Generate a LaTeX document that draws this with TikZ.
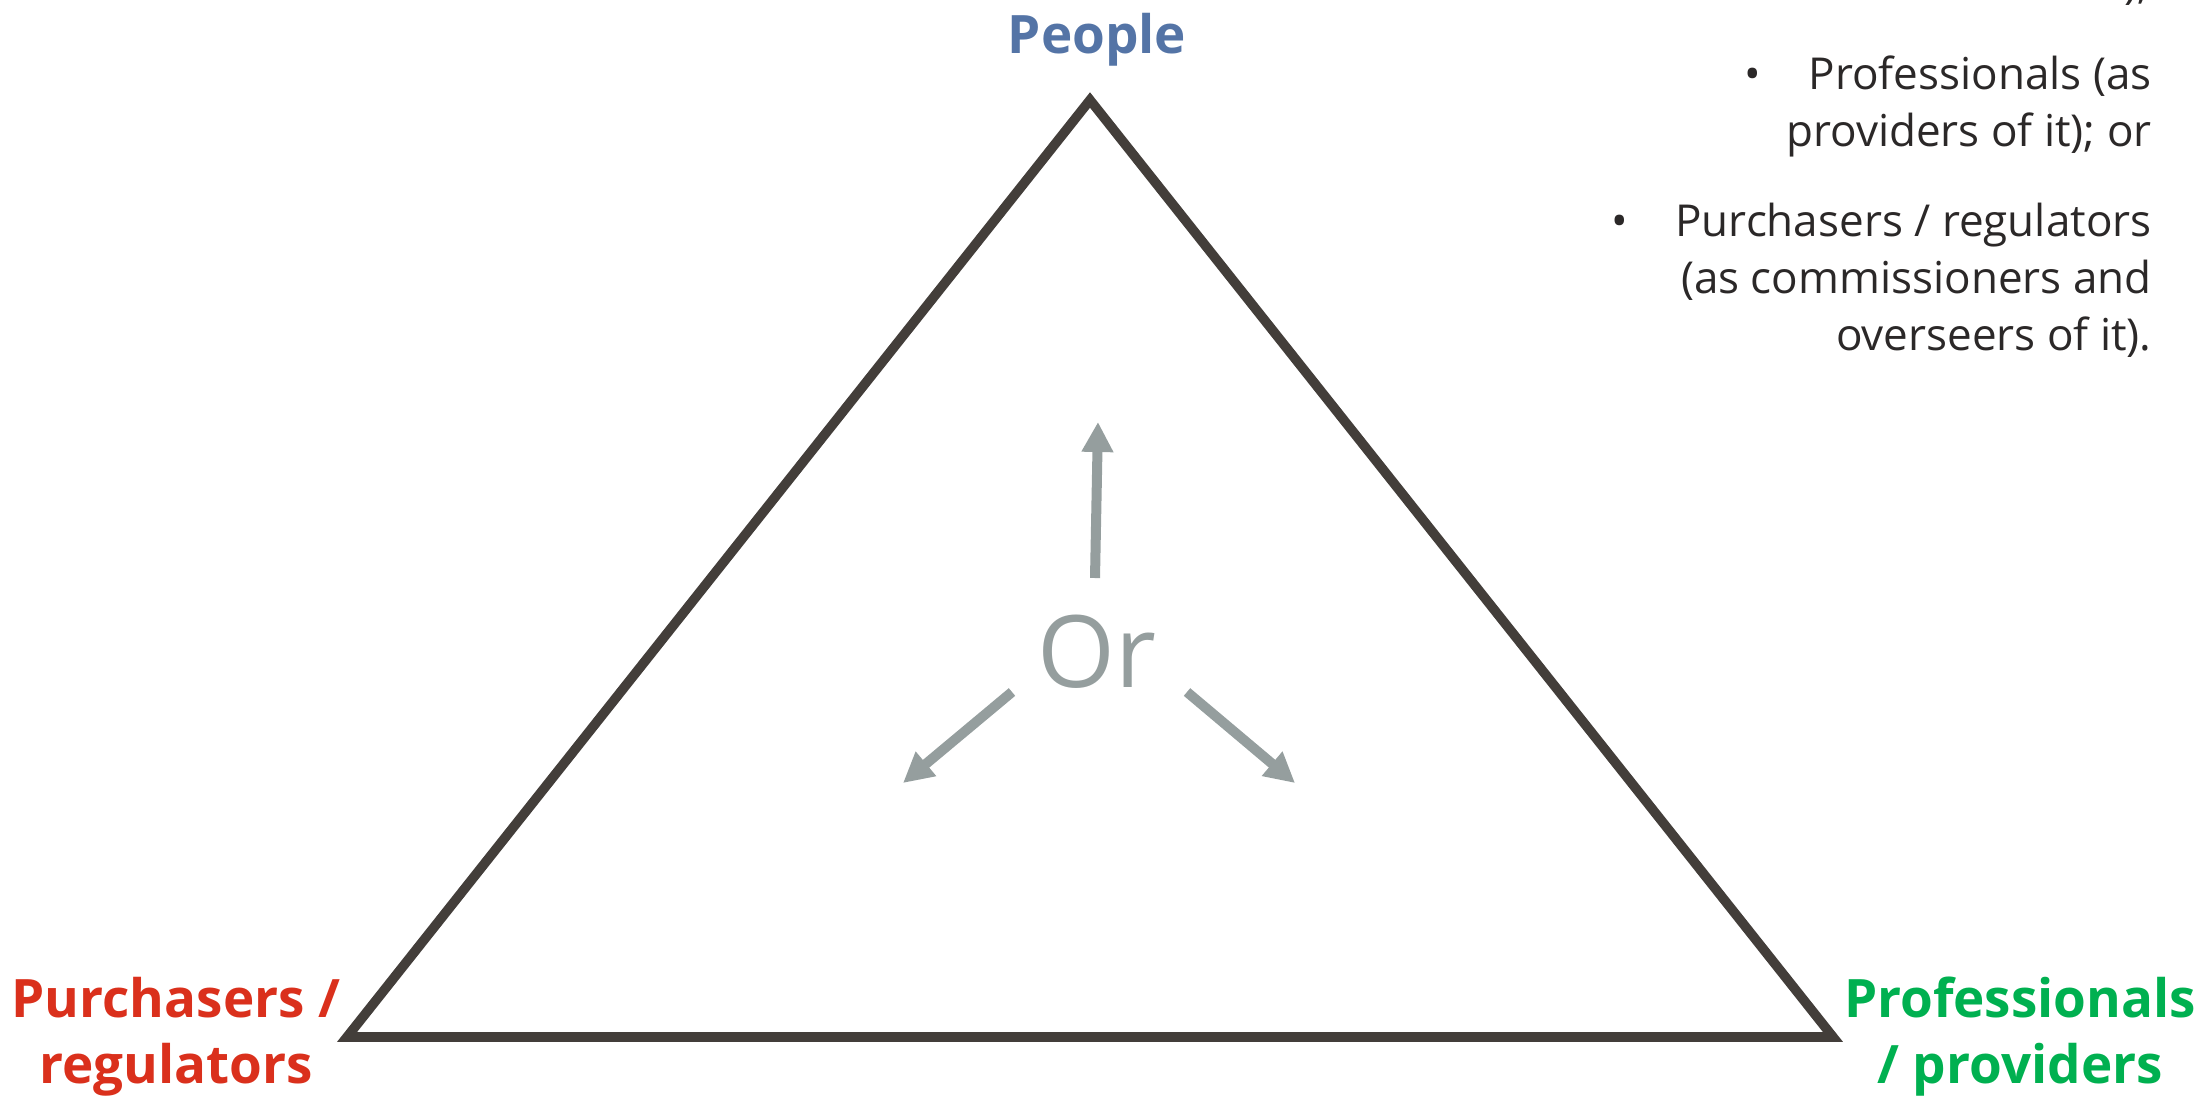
\documentclass[tikz,border=0pt]{standalone}
\usepackage{fontspec}
\setmainfont{Open Sans}
\usetikzlibrary{arrows.meta}
\definecolor{edgegray}{RGB}{67,62,58}
\definecolor{peopleblue}{RGB}{84,116,166}
\definecolor{purchred}{RGB}{218,48,28}
\definecolor{profgreen}{RGB}{0,176,80}
\definecolor{orgray}{RGB}{149,158,158}
\definecolor{bodytext}{RGB}{43,40,40}

\begin{document}
\begin{tikzpicture}[x=0.5pt,y=-0.5pt,>={Triangle[length=15pt,width=15pt]},
  corner/.style={font=\bfseries\fontsize{26.5}{33}\selectfont,align=center,inner sep=0pt,anchor=base},
  bullets/.style={font=\fontsize{22}{28.5}\selectfont,text=bodytext,align=right,inner sep=0pt,anchor=base east},
  orarrow/.style={->,orgray,line width=5pt}]
  \useasboundingbox (0,0) rectangle (2206,1098);
  \clip (0,0) rectangle (2206,1098);
  \coordinate (P) at (1090,100);
  \coordinate (R) at (347,1037);
  \coordinate (G) at (1833,1037);
  \draw[edgegray,line width=4.8pt,line join=miter] (P)--(R)--(G)--cycle;
  \node[corner,text=peopleblue] (people) at (1097,53) {People};
  \node[corner,text=purchred] (purch) at (176,1083) {Purchasers /\\regulators};
  \node[corner,text=profgreen] (prof) at (2020,1083) {Professionals\\/ providers};
  \node[font=\fontsize{50}{60}\selectfont,text=orgray,inner sep=0pt,anchor=base] (orlabel) at (1097,687) {Or};
  \coordinate (upS) at (1095,578);   \coordinate (upE) at (1098,422);
  \coordinate (leftS) at (1012,692); \coordinate (leftE) at (903,783);
  \coordinate (rightS) at (1187,692); \coordinate (rightE) at (1295,783);
  \draw[orarrow] (upS)--(upE);
  \draw[orarrow] (leftS)--(leftE);
  \draw[orarrow] (rightS)--(rightE);
  \node[bullets] (itemA) at (2150,-2) {);};
  \node[bullets] (itemB) at (2152,146) {\makebox[32pt][l]{•}Professionals (as\\providers of it); or};
  \node[bullets] (itemC) at (2152,350) {\makebox[32pt][l]{•}Purchasers / regulators\\(as commissioners and\\overseers of it).};
\end{tikzpicture}
\end{document}
